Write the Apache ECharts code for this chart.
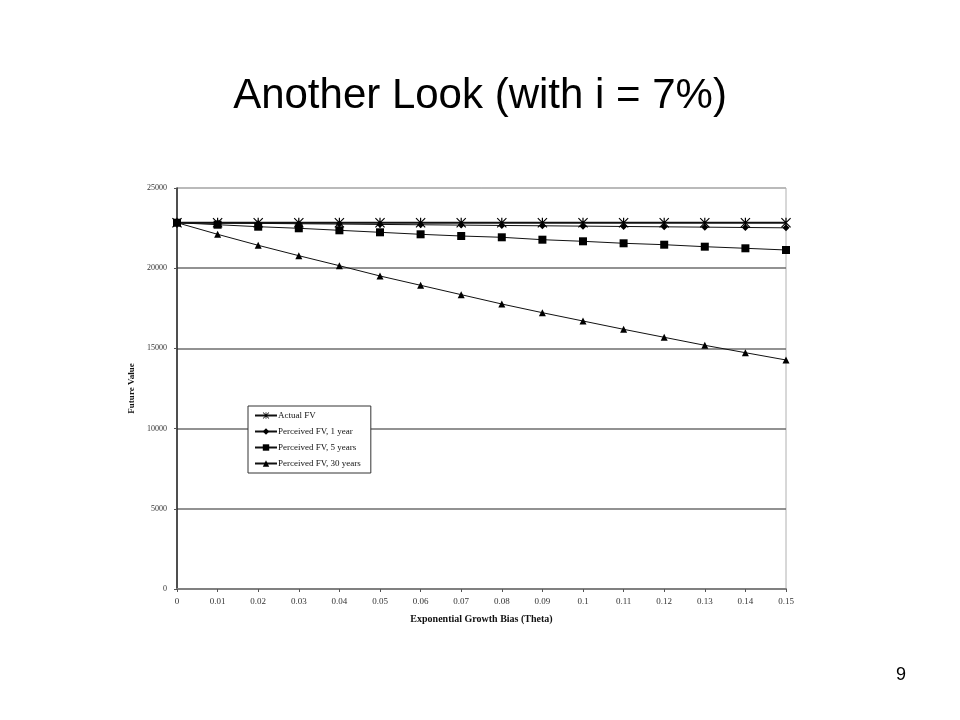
<!DOCTYPE html>
<html>
<head>
<meta charset="utf-8">
<script src="https://cdn.jsdelivr.net/npm/echarts@6/dist/echarts.min.js"></script>
<style>
html,body{margin:0;padding:0;background:#fff;}
#c{width:960px;height:720px;}
</style>
</head>
<body>
<div id="c"></div>
<script>
const thetaLabels = ['0','0.01','0.02','0.03','0.04','0.05','0.06','0.07','0.08','0.09','0.1','0.11','0.12','0.13','0.14','0.15'];
const actualFV = [22837,22837,22837,22837,22837,22837,22837,22837,22837,22837,22837,22837,22837,22837,22837,22837];
const perceived1 = [22837,22815,22794,22772,22751,22729,22708,22687,22665,22644,22623,22601,22580,22559,22538,22517];
const perceived5 = [22837,22712,22587,22488,22363,22238,22113,22007,21927,21777,21677,21553,21465,21341,21241,21135];
const perceived30 = [22837,22113,21427,20780,20156,19514,18934,18350,17768,17226,16708,16190,15692,15193,14732,14277];
const yTicks = [0,5000,10000,15000,20000,25000];
const seriesNames = ['Actual FV','Perceived FV, 1 year','Perceived FV, 5 years','Perceived FV, 30 years'];

const serif = '"Liberation Serif","DejaVu Serif",serif';
// filled asterisk (X plus vertical bar)
const starPath = 'path://M4.4,0L5.6,0L5.6,10L4.4,10ZM0,0.8L0.8,0L10,9.2L9.2,10ZM9.2,0L10,0.8L0.8,10L0,9.2Z';

const chart = echarts.init(document.getElementById('c'), null, {renderer:'canvas'});
const mk = (name, data, symbol, size, width) => ({
  name, type:'line', data, symbol, symbolSize:size, showSymbol:true,
  lineStyle:{color:'#111', width},
  itemStyle:{color:'#000', borderWidth:0},
  emphasis:{disabled:true}, animation:false, z: 3
});
chart.setOption({
  animation:false,
  backgroundColor:'#fff',
  title:[{
    text:'Another Look (with i = 7%)', left:'center', top:70,
    textStyle:{fontFamily:'"Liberation Sans",Arial,sans-serif', fontSize:42, fontWeight:'normal', color:'#000'}
  },{
    text:'9', left:891, top:661,
    textStyle:{fontFamily:'"Liberation Sans",Arial,sans-serif', fontSize:18, fontWeight:'normal', color:'#000'}
  }],
  grid:{left:177, right:174, top:188, bottom:131, show:true, borderColor:'#b0b0b0', borderWidth:1, backgroundColor:'transparent'},
  legend:{
    orient:'vertical', left:248, top:406,
    backgroundColor:'#fff', borderColor:'#333', borderWidth:1, padding:[5,10,5,6],
    itemGap:7, itemWidth:22, itemHeight:8,
    textStyle:{fontFamily:serif, fontSize:9, color:'#111', padding:[0,0,0,-4]},
    data:seriesNames
  },
  xAxis:{
    type:'category', data:thetaLabels, boundaryGap:false,
    name:'Exponential Growth Bias (Theta)', nameLocation:'middle', nameGap:25,
    nameTextStyle:{fontFamily:serif, fontSize:10, fontWeight:'bold', color:'#111'},
    axisLine:{lineStyle:{color:'#808080', width:2}},
    axisTick:{show:true, alignWithLabel:true, length:3, lineStyle:{color:'#555'}},
    axisLabel:{fontFamily:serif, fontSize:9, color:'#333', margin:8, interval:0},
    splitLine:{show:false}
  },
  yAxis:{
    type:'value', min:0, max:25000, interval:5000,
    name:'Future Value', nameLocation:'middle', nameGap:40, nameRotate:90,
    nameTextStyle:{fontFamily:serif, fontSize:9, fontWeight:'bold', color:'#111'},
    axisLine:{show:true, lineStyle:{color:'#222', width:1.5}},
    axisTick:{show:true, length:3, lineStyle:{color:'#555'}},
    axisLabel:{fontFamily:serif, fontSize:8, color:'#333', margin:10,
      formatter:(v)=> yTicks.includes(v) ? String(v) : ''},
    splitLine:{show:true, lineStyle:{color:['#808080','#6e6e6e','#6e6e6e','#6e6e6e','#6e6e6e','#b0b0b0'], width:1.5}}
  },
  series:[
    mk(seriesNames[0], actualFV, starPath, 10, 2),
    mk(seriesNames[1], perceived1, 'diamond', 7, 1),
    mk(seriesNames[2], perceived5, 'rect', 8, 1),
    mk(seriesNames[3], perceived30, 'triangle', 7, 1)
  ]
});
</script>
</body>
</html>
